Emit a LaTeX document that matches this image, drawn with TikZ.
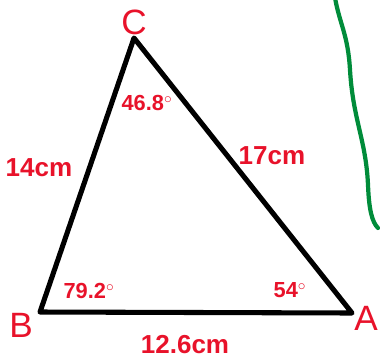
\documentclass[tikz,border=0pt]{standalone}
\usepackage{fontspec}
\setsansfont{Liberation Sans}
\usepackage{tikz}
\usetikzlibrary{positioning}
\usepackage{xcolor}
\definecolor{inkred}{RGB}{232,18,42}
\definecolor{inkgreen}{RGB}{0,140,58}

\begin{document}
\begin{tikzpicture}[x=0.025cm, y=-0.025cm,
    side/.style={line width=3.6pt, black, line join=round, line cap=round},
    vlabel/.style={inkred, font=\sffamily\fontsize{25}{25}\selectfont, inner sep=0pt},
    len/.style={inkred, font=\sffamily\bfseries\fontsize{18.5}{18.5}\selectfont, inner sep=0pt},
    ang/.style={inkred, font=\sffamily\bfseries\fontsize{15.5}{15.5}\selectfont, inner sep=0pt}
]
    \useasboundingbox (0,0) rectangle (380,362);
    \coordinate (B) at (40,312);
    \coordinate (A) at (352,313);
    \coordinate (C) at (134,38);

    \draw[side] (B) -- (A) -- (C) -- cycle;

    % vertices
    \node[vlabel] (labC) at (134,22) {C};
    \node[vlabel] (labB) at (21,325) {B};
    \node[vlabel] (labA) at (366,318) {A};

    % sides and angles
    \node[len] (sideBC) at (39,168) {14cm};
    \node[len] (sideCA) at (272,156) {17cm};
    \node[len] (sideAB) at (185,345) {12.6cm};
    \node[ang] (angC) at (147,103) {46.8$^{\circ}$};
    \node[ang] (angB) at (89,291) {79.2$^{\circ}$};
    \node[ang] (angA) at (290,290) {54$^{\circ}$};

    % stray stroke
    \draw[inkgreen, line width=3pt, line cap=round]
        (335,-2) .. controls (340,25) and (348,35) .. (350,70)
        .. controls (353,120) and (366,140) .. (368,185)
        .. controls (369,210) and (372,222) .. (378,228);
\end{tikzpicture}
\end{document}
